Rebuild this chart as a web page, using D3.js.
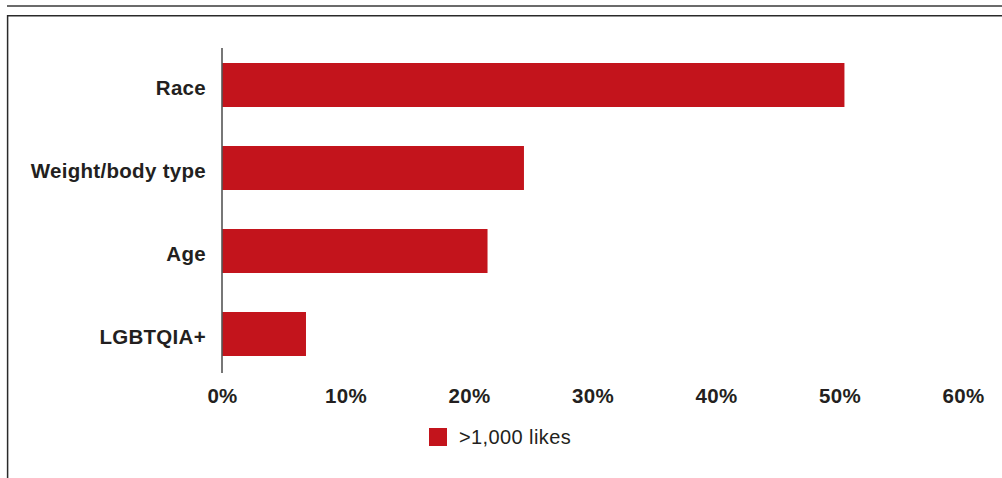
<!DOCTYPE html>
<html>
<head>
<meta charset="utf-8">
<script src="https://cdn.jsdelivr.net/npm/d3@7"></script>
<style>
  html, body { margin: 0; padding: 0; background: #fff; }
  svg { display: block; }
  text { font-family: "Liberation Sans", Arial, Helvetica, sans-serif; fill: #231f20; }
</style>
</head>
<body>
<svg id="chart" width="1002" height="478"></svg>
<script>
// Share of posts mentioning each topic, among posts with more than 1,000 likes
const categories = ["Race", "Weight/body type", "Age", "LGBTQIA+"];
const values = [50.4, 24.45, 21.5, 6.8];
const tickValues = [0, 10, 20, 30, 40, 50, 60];
const seriesName = ">1,000 likes";
const barColor = "#c3141c";

const svg = d3.select("#chart");
const W = 1002, H = 478;

// Outer frame: rule across the top and an open box below it
svg.append("line")
  .attr("x1", 7).attr("x2", W).attr("y1", 6).attr("y2", 6)
  .attr("stroke", "#6b6b6b").attr("stroke-width", 2);
svg.append("path")
  .attr("d", `M${W + 2},15.8 H7.6 V${H + 2}`)
  .attr("fill", "none").attr("stroke", "#2a2a2a").attr("stroke-width", 1.5);

const x = d3.scaleLinear().domain([0, 60]).range([222, 963]);
const y = d3.scaleBand().domain(categories).range([43.5, 375.5])
  .paddingInner(0.47).paddingOuter(0.235);

// Bars
svg.append("g").selectAll("rect")
  .data(categories.map((c, i) => ({ c, v: values[i] })))
  .join("rect")
  .attr("x", x(0))
  .attr("y", d => y(d.c))
  .attr("width", d => x(d.v) - x(0))
  .attr("height", y.bandwidth())
  .attr("fill", barColor);

// Category labels
const yAxis = svg.append("g")
  .attr("transform", `translate(${x(0)},0)`)
  .call(d3.axisLeft(y).tickSize(0).tickPadding(16));
yAxis.select(".domain").remove();
yAxis.selectAll("text")
  .attr("dy", "0.5em")
  .style("font-size", "20.5px")
  .style("font-weight", "bold")
  .style("letter-spacing", "0.3px")
  .attr("fill", "#231f20");

// Vertical baseline at zero
svg.append("line")
  .attr("x1", x(0)).attr("x2", x(0))
  .attr("y1", 48).attr("y2", 373)
  .attr("stroke", "#555").attr("stroke-width", 1.6);

// Percentage ticks
const xAxis = svg.append("g")
  .attr("transform", "translate(0,380)")
  .call(d3.axisBottom(x).tickValues(tickValues).tickSize(0).tickPadding(0)
    .tickFormat(d => d + "%"));
xAxis.select(".domain").remove();
xAxis.selectAll("text")
  .attr("y", 22.5).attr("dy", 0)
  .style("font-size", "20.5px")
  .style("font-weight", "bold")
  .style("letter-spacing", "0.3px")
  .attr("fill", "#231f20");

// Legend
const legend = svg.append("g").attr("transform", "translate(429,428)");
legend.append("rect")
  .attr("width", 18).attr("height", 18).attr("fill", barColor);
legend.append("text")
  .attr("x", 30).attr("y", 15.5)
  .style("font-size", "20px")
  .style("letter-spacing", "0.4px")
  .attr("fill", "#231f20")
  .text(seriesName);
</script>
</body>
</html>
